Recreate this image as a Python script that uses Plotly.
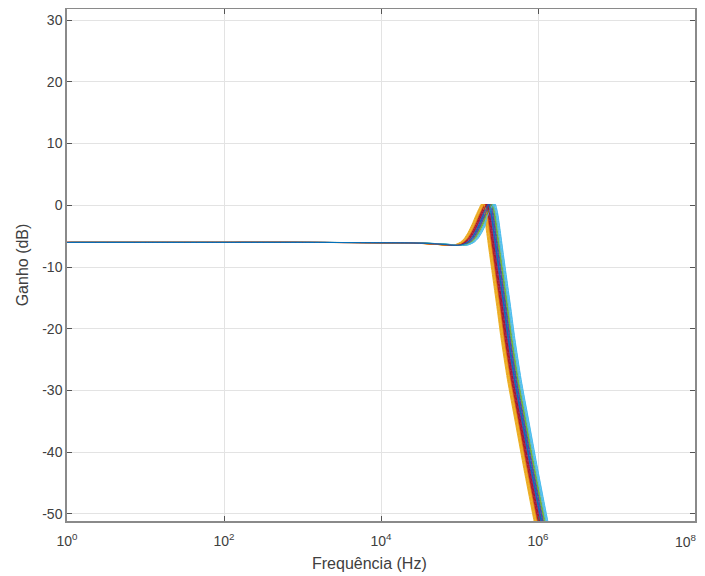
import plotly.graph_objects as go

# Base magnitude response (log10 of frequency in Hz, gain in dB)
base_log_f = [0, 1, 2, 3, 4, 4.4, 4.7, 4.85, 4.95, 5.03, 5.1, 5.15, 5.2, 5.25, 5.3,
              5.34, 5.37, 5.40, 5.43, 5.47, 5.52, 5.57, 5.62, 5.7, 5.8, 5.9, 6.0, 6.1, 6.2]
base_gain = [-6.02, -6.02, -6.02, -6.02, -6.05, -6.1, -6.25, -6.4, -6.5, -6.4, -6.0, -5.4,
             -4.4, -3.1, -1.6, -0.5, 0.2, -1.2, -3.8, -7.6, -12.2, -16.8, -21.6, -28.2,
             -35.1, -42.0, -48.6, -55.0, -61.5]

# Frequency offset (decades) of each of the plotted curves, as read from the spread of the bundle
curve_shift_dec = [0.00, -0.08, -0.09, -0.02, 0.05, 0.08, -0.04, 0.02, -0.06, -0.07,
                   0.00, 0.06, 0.085, -0.03, 0.01, -0.05, -0.08, -0.01, 0.04, 0.07,
                   -0.04, 0.03, -0.05, -0.06, 0.02, 0.04, 0.06, -0.02, 0.00]

colors = ["#0072BD", "#D95319", "#EDB120", "#7E2F8E", "#77AC30", "#4DBEEE", "#A2142F"]

x_tickvals = [1, 1e2, 1e4, 1e6, 1e8]
x_ticktext = ["10<sup>0</sup>", "10<sup>2</sup>", "10<sup>4</sup>", "10<sup>6</sup>", ""]
y_tickvals = [-50, -40, -30, -20, -10, 0, 10, 20, 30]
y_ticktext = ["-50", "-40", "-30", "-20", "-10", "0", "10", "20", "30"]

FONT = "Liberation Sans, Arial, sans-serif"
TXT = "#404040"

fig = go.Figure()
for i, s in enumerate(curve_shift_dec):
    xs = [10 ** (lf + s) for lf in base_log_f]
    fig.add_trace(go.Scatter(x=xs, y=base_gain, mode="lines",
                             line=dict(color=colors[i % len(colors)], width=1.0, shape="spline", smoothing=0.6),
                             showlegend=False, hoverinfo="skip"))

axis_common = dict(showline=True, linecolor="#8a8a8a", linewidth=1.5, mirror="ticks",
                   ticks="inside", ticklen=5, tickcolor="#555555", automargin=False,
                   showgrid=True, gridcolor="#e3e3e3", gridwidth=1, zeroline=False,
                   tickfont=dict(family=FONT, size=14, color=TXT))

fig.update_xaxes(type="log", range=[0, 8], tickvals=x_tickvals, ticktext=x_ticktext,
                 ticklabelstandoff=6, **axis_common)
fig.update_yaxes(range=[-51.15, 31.8], tickvals=y_tickvals, ticktext=y_ticktext,
                 title=dict(text="Ganho (dB)", font=dict(family=FONT, size=16, color=TXT), standoff=10),
                 **axis_common)

# last decade label placed so it stays inside the figure, as in the reference
fig.add_annotation(x=8, y=0, xref="x", yref="paper", yanchor="top", xanchor="right",
                   text="10<sup>8</sup>", showarrow=False, xshift=4, yshift=-9,
                   font=dict(family=FONT, size=14, color=TXT))

# x-axis title, slightly left of the plot centre as in the reference
fig.add_annotation(x=0.481, y=0, xref="paper", yref="paper", xanchor="center", yanchor="middle",
                   text="Frequência (Hz)", showarrow=False, yshift=-42,
                   font=dict(family=FONT, size=16, color=TXT))

# the page body adds an 8px offset, so the figure is sized to end at the window edge
fig.update_layout(width=697, height=568, margin=dict(l=59, r=10, t=1, b=55),
                  plot_bgcolor="white", paper_bgcolor="white",
                  font=dict(family=FONT, color=TXT))

fig.write_html("out.html")
